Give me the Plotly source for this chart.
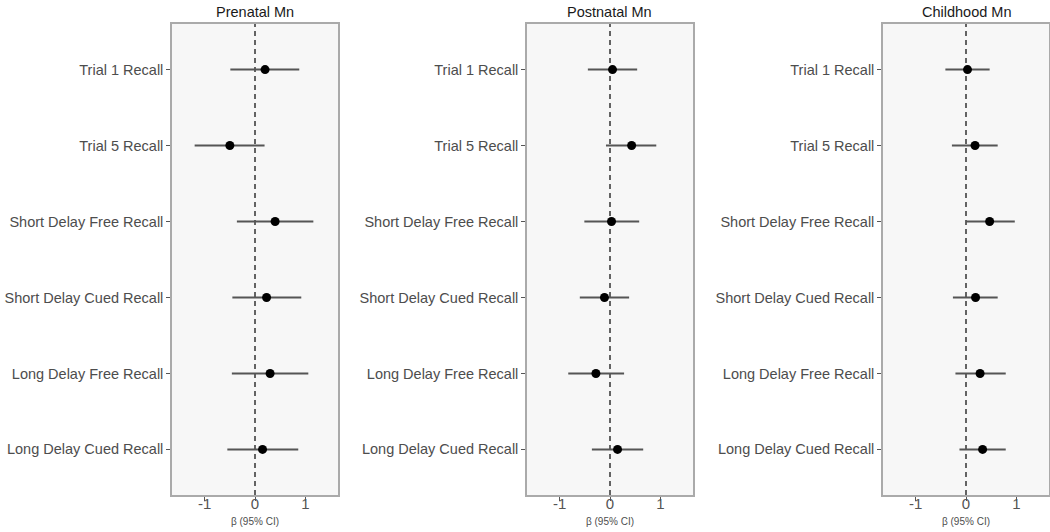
import plotly.graph_objects as go

outcomes = ["Trial 1 Recall", "Trial 5 Recall", "Short Delay Free Recall",
            "Short Delay Cued Recall", "Long Delay Free Recall", "Long Delay Cued Recall"]
panels = ["Prenatal Mn", "Postnatal Mn", "Childhood Mn"]

prenatal_est = [0.20, -0.50, 0.40, 0.23, 0.30, 0.15]
prenatal_lo = [-0.49, -1.20, -0.36, -0.45, -0.46, -0.55]
prenatal_hi = [0.88, 0.19, 1.16, 0.92, 1.06, 0.86]

postnatal_est = [0.05, 0.43, 0.03, -0.11, -0.28, 0.15]
postnatal_lo = [-0.44, -0.08, -0.51, -0.60, -0.83, -0.36]
postnatal_hi = [0.54, 0.92, 0.58, 0.38, 0.28, 0.66]

childhood_est = [0.03, 0.18, 0.47, 0.19, 0.28, 0.33]
childhood_lo = [-0.41, -0.28, 0.00, -0.26, -0.21, -0.13]
childhood_hi = [0.47, 0.63, 0.97, 0.63, 0.79, 0.79]

x_ticks = [-1, 0, 1]
x_range = [-1.65, 1.65]

data = [
    (prenatal_est, prenatal_lo, prenatal_hi),
    (postnatal_est, postnatal_lo, postnatal_hi),
    (childhood_est, childhood_lo, childhood_hi),
]

W, H = 1050, 532
x_domains = [[172 / W, 338 / W], [527 / W, 693 / W], [883 / W, 1049 / W]]
y_domain = [(H - 495) / H, (H - 24) / H]

FONT = "Liberation Sans, Arial, sans-serif"
fig = go.Figure()
label_font = dict(family=FONT, size=14.5, color="#4d4d4d")
xtick_font = dict(family=FONT, size=15, color="#555555")

for i, (est, lo, hi) in enumerate(data):
    xa = "x" if i == 0 else f"x{i+1}"
    ya = "y" if i == 0 else f"y{i+1}"
    fig.add_trace(go.Scatter(
        x=est, y=outcomes, mode="markers", xaxis=xa, yaxis=ya,
        marker=dict(color="black", size=9),
        error_x=dict(type="data", symmetric=False,
                     array=[h - e for h, e in zip(hi, est)],
                     arrayminus=[e - l for e, l in zip(est, lo)],
                     width=0, thickness=2, color="#555555"),
        showlegend=False, cliponaxis=False, hoverinfo="skip",
    ))
    suffix = "" if i == 0 else str(i + 1)
    fig.update_layout(**{
        f"xaxis{suffix}": dict(
            domain=x_domains[i], range=x_range, anchor=ya,
            tickvals=x_ticks, ticktext=[str(t) for t in x_ticks],
            ticks="outside", ticklen=4, tickcolor="#555555", tickwidth=1,
            tickfont=xtick_font, showgrid=False, zeroline=False,
            ticklabelstandoff=-10,
            showline=True, mirror=True, linecolor="#aaaaaa", linewidth=1.5,
        ),
        f"yaxis{suffix}": dict(
            domain=y_domain, anchor=xa, type="category",
            categoryorder="array", categoryarray=outcomes,
            range=[5.6, -0.6], ticks="outside", ticklen=4, tickcolor="#555555",
            tickwidth=1, tickfont=label_font, showgrid=False, zeroline=False,
            showline=True, mirror=True, linecolor="#aaaaaa", linewidth=1.5,
        ),
    })
    fig.add_shape(type="line", xref=xa, yref=f"{ya} domain", x0=0, x1=0, y0=0, y1=1,
                  line=dict(color="#333333", width=1.5, dash="5px,4px"), layer="below")
    xc = (x_domains[i][0] + x_domains[i][1]) / 2
    fig.add_annotation(text=panels[i], xref="paper", yref="paper",
                       x=xc, y=(H - 12) / H,
                       showarrow=False, xanchor="center", yanchor="middle",
                       font=dict(family=FONT, size=14.5, color="#1a1a1a"))
    fig.add_annotation(text="β (95% CI)", xref="paper", yref="paper",
                       x=xc, y=(H - 521) / H,
                       showarrow=False, xanchor="center", yanchor="middle",
                       font=dict(family=FONT, size=10, color="#4d4d4d"))

fig.update_layout(
    width=W, height=H, margin=dict(l=0, r=0, t=0, b=0),
    paper_bgcolor="white", plot_bgcolor="#f7f7f7",
)

fig.write_html("out.html", config={"displayModeBar": False},
               post_script="document.body.style.margin='0';document.body.style.overflow='hidden';")
